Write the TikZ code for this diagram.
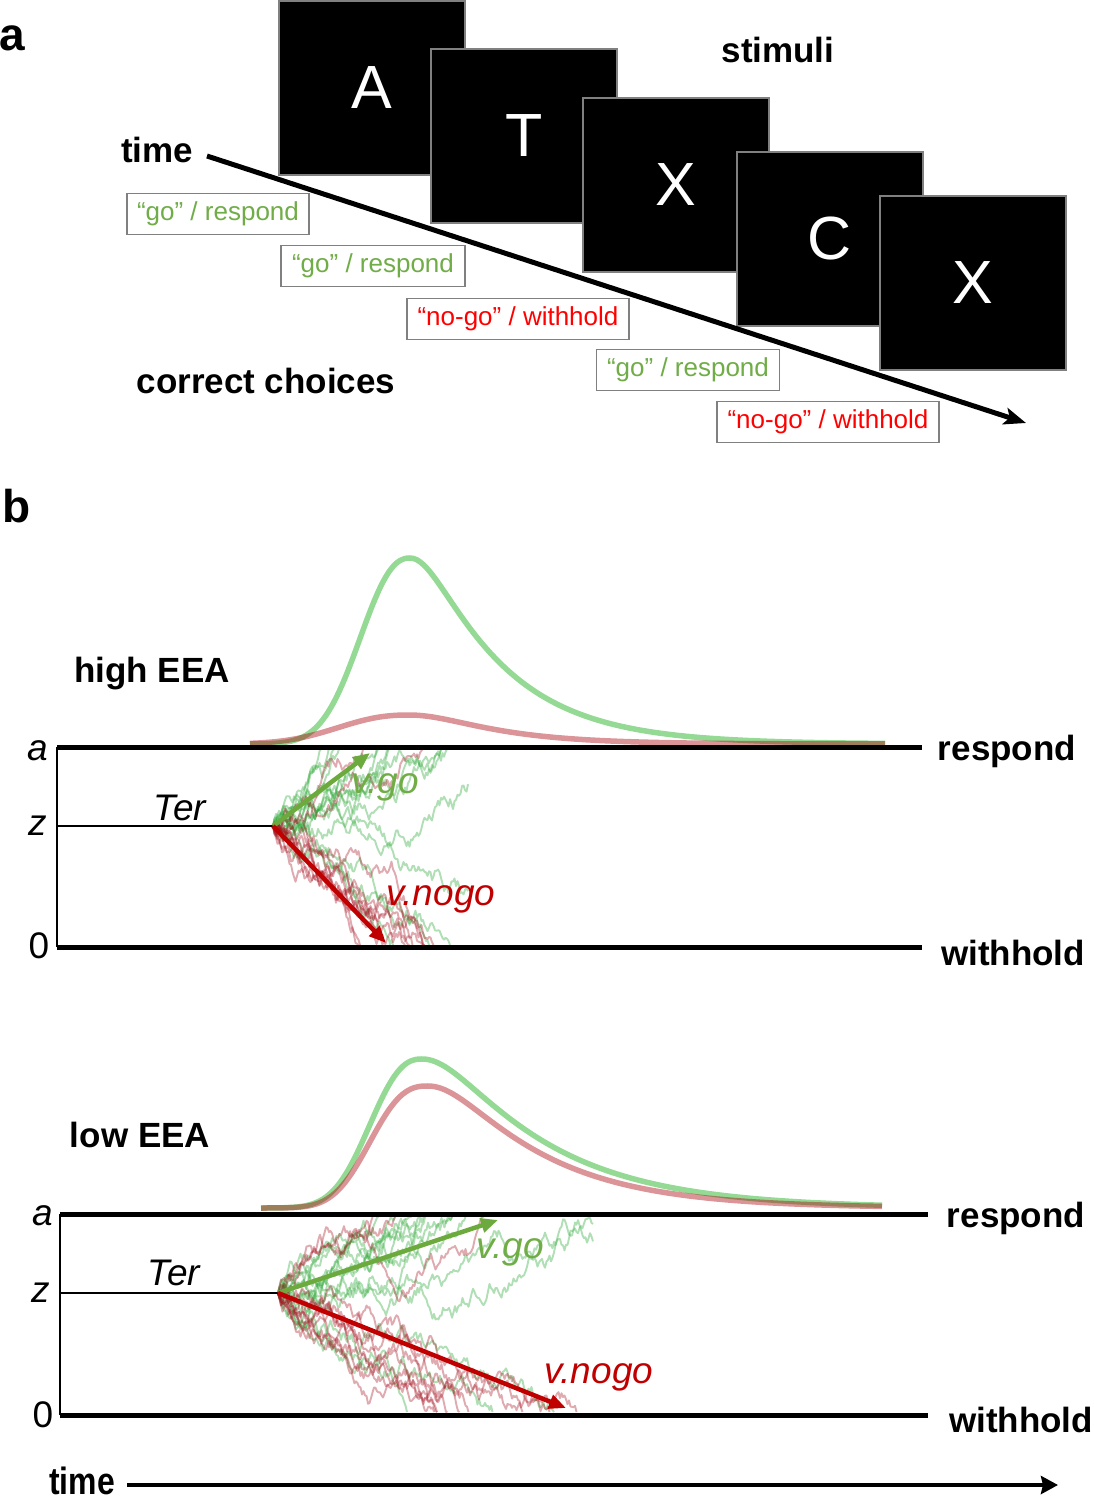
\documentclass[tikz,border=0pt]{standalone}
\usepackage{fontspec}
\usepackage{graphicx}
\setmainfont{Liberation Sans}
\usetikzlibrary{arrows.meta}
\definecolor{gtxt}{RGB}{112,173,71}
\definecolor{rtxt}{RGB}{255,0,0}
\definecolor{garr}{RGB}{108,170,62}
\definecolor{rarr}{RGB}{192,0,0}
\definecolor{gcurve}{RGB}{0,165,0}
\definecolor{rcurve}{RGB}{170,0,10}
\definecolor{gtr}{RGB}{40,165,50}
\definecolor{rtr}{RGB}{165,20,35}
\definecolor{boxgray}{RGB}{128,128,128}

\newcount\wcnt
\newcommand\rwalk[6]{%
  \def\wx{#2}\def\wy{#3}%
  \edef\wpath{(#2,#3)}%
  \wcnt=0
  \loop
    \pgfmathsetmacro\wx{\wx+1.5}%
    \pgfmathsetmacro\wy{\wy+(#4)+(#5)*rand}%
    \pgfmathsetmacro\wyc{min(max(\wy,\wtop),\wbot)}%
    \edef\wpath{\wpath -- (\wx,\wyc)}%
    \advance\wcnt by 1
    \pgfmathtruncatemacro\wgo{and(\wy>\wtop,and(\wy<\wbot,\the\wcnt<#6))}%
  \ifnum\wgo=1 \repeat
  \edef\wcmd{\noexpand\draw[#1] \wpath;}\wcmd
}

\tikzset{
  lbl/.style={font=\fontsize{35}{40}\selectfont\bfseries, inner sep=0, anchor=base},
  panellbl/.style={font=\fontsize{46}{50}\selectfont\bfseries, inner sep=0, anchor=base},
  stim/.style={draw=boxgray, line width=1.5pt, fill=black, text=white,
    minimum width=186pt, minimum height=174pt, inner sep=0,
    font=\fontsize{61}{61}\selectfont, anchor=north west},
  choice/.style={draw=boxgray, line width=1.5pt, fill=white, minimum height=41pt,
    inner sep=0, font=\fontsize{26}{30}\selectfont},
  gochoice/.style={choice, text=gtxt},
  nogochoice/.style={choice, text=rtxt},
  axlbl/.style={font=\fontsize{37}{40}\selectfont, inner sep=0, anchor=base},
  itlbl/.style={font=\fontsize{37}{40}\selectfont\itshape, inner sep=0, anchor=base},
  bound/.style={line width=5pt},
  gtrace/.style={draw=gtr, opacity=0.36, line width=1.9pt, line join=round},
  rtrace/.style={draw=rtr, opacity=0.36, line width=1.9pt, line join=round},
  gcurvest/.style={draw=gcurve, opacity=0.42, line width=5.5pt, line join=round},
  rcurvest/.style={draw=rcurve, opacity=0.42, line width=5.5pt, line join=round},
  garrow/.style={draw=garr, line width=4.5pt, -{Triangle[length=17pt,width=14pt]}},
  rarrow/.style={draw=rarr, line width=4.5pt, -{Triangle[length=17pt,width=14pt]}},
}

\begin{document}
\begin{tikzpicture}[x=1pt,y=-1pt]
\useasboundingbox (0,0) rectangle (1093,1500);

% ---------------- panel a ----------------
\node[panellbl] (pa) at (12,50) {a};
\node[stim] (s1) at (278,0) {A};
\node[stim] (s2) at (430,48) {T};
\node[stim] (s3) at (582,97) {X};
\node[stim] (s4) at (736,151) {C};
\node[stim] (s5) at (879,195) {X};
\node[lbl] (stimuli) at (778,62) {stimuli};
\node[lbl] (timea) at (157,162) {time};
\coordinate (ta0) at (207,156);
\coordinate (ta1) at (1026,423);
\draw[line width=5pt, -{Stealth[length=22pt,width=17pt,inset=5pt]}] (ta0) -- (ta1);
\node[gochoice, minimum width=182pt] (c1) at (218,214) {“go” / respond};
\node[gochoice, minimum width=184pt] (c2) at (373,266) {“go” / respond};
\node[nogochoice, minimum width=222pt] (c3) at (518,319) {“no-go” / withhold};
\node[gochoice, minimum width=183pt] (c4) at (688,370) {“go” / respond};
\node[nogochoice, minimum width=222pt] (c5) at (828,422) {“no-go” / withhold};
\node[lbl] (correct) at (266,393) {correct choices};

% ---------------- panel b ----------------
\node[panellbl] (pb) at (17,522) {b};

% ----- high EEA -----
\node[lbl] (high) at (152,682) {high EEA};
\draw[gcurvest] plot[domain=250:409.9, samples=60] (\x,{744-186*exp(-pow((410-\x)/64,2.3))})
  -- plot[domain=410:885, samples=140] (\x,{744-186*exp(-(10*sqrt(((\x-410)/10)^2+9)-30)/78)});
\draw[rcurvest] plot[domain=250:408.9, samples=60] (\x,{744-29*exp(-pow((409-\x)/90,2.35))})
  -- plot[domain=409:885, samples=140] (\x,{744-29*exp(-(10*sqrt(((\x-409)/10)^2+30.25)-55)/68)});

\def\wtop{749}\def\wbot{945}
\pgfmathsetseed{11}
\foreach \i in {1,...,12}{\rwalk{gtrace}{273}{826}{-0.95}{7}{130}}
\foreach \i in {1,...,4}{\rwalk{gtrace}{273}{826}{1.0}{7}{130}}
\foreach \i in {1,...,10}{\rwalk{rtrace}{273}{826}{1.3}{7}{130}}
\foreach \i in {1,...,2}{\rwalk{rtrace}{273}{826}{-1.4}{7}{130}}

\coordinate (h0l) at (57,947);
\coordinate (h0r) at (922,947);
\coordinate (hal) at (57,747);
\coordinate (har) at (922,747);
\coordinate (hzl) at (57,826);
\coordinate (hz) at (273,826);
\draw[bound] (hal) -- (har);
\draw[bound] (h0l) -- (h0r);
\draw[line width=2.5pt] (hal) -- (h0l);
\draw[line width=2pt] (hzl) -- (hz);
\coordinate (hg) at (370,753);
\coordinate (hr) at (386,943);
\draw[garrow] (hz) -- (hg);
\draw[rarrow] (hz) -- (hr);

\node[itlbl] (ha) at (38,760) {a};
\node[itlbl] (hzlbl) at (38,835) {z};
\node[axlbl] (h0) at (39,958) {0};
\node[itlbl] (hter) at (180,820) {Ter};
\node[itlbl, text=gtxt] (hvgo) at (385,793) {v.go};
\node[itlbl, text=rarr] (hvnogo) at (441,905) {v.nogo};
\node[lbl] (hresp) at (1007,760) {respond};
\node[lbl] (hwith) at (1013,965) {withhold};

% ----- low EEA -----
\node[lbl] (low) at (140,1147) {low EEA};
\draw[gcurvest] plot[domain=261:421.9, samples=60] (\x,{1208-149*exp(-pow((422-\x)/65,2.45))})
  -- plot[domain=422:882, samples=140] (\x,{1208-149*exp(-(10*sqrt(((\x-422)/10)^2+20.25)-45)/105)});
\draw[rcurvest] plot[domain=261:427.9, samples=60] (\x,{1208-122*exp(-pow((428-\x)/70,2.62))})
  -- plot[domain=428:882, samples=140] (\x,{1208-122*exp(-(10*sqrt(((\x-428)/10)^2+20.25)-45)/95)});

\def\wtop{1217}\def\wbot{1412}
\pgfmathsetseed{5}
\foreach \i in {1,...,11}{\rwalk{gtrace}{278}{1293}{-0.75}{7}{210}}
\foreach \i in {1,...,3}{\rwalk{gtrace}{278}{1293}{0.6}{7}{210}}
\foreach \i in {1,...,9}{\rwalk{rtrace}{278}{1293}{1.0}{7}{210}}
\foreach \i in {1,...,3}{\rwalk{rtrace}{278}{1293}{-0.45}{7}{210}}

\coordinate (l0l) at (60,1415);
\coordinate (l0r) at (928,1415);
\coordinate (lal) at (60,1214);
\coordinate (lar) at (928,1214);
\coordinate (lzl) at (60,1293);
\coordinate (lz) at (278,1293);
\draw[bound] (lal) -- (lar);
\draw[bound] (l0l) -- (l0r);
\draw[line width=2.5pt] (lal) -- (l0l);
\draw[line width=2pt] (lzl) -- (lz);
\coordinate (lg) at (498,1220);
\coordinate (lr) at (566,1408);
\draw[garrow] (lz) -- (lg);
\draw[rarrow] (lz) -- (lr);

\node[itlbl] (la) at (43,1225) {a};
\node[itlbl] (lzlbl) at (41,1302) {z};
\node[axlbl] (l0) at (43,1427) {0};
\node[itlbl] (lter) at (174,1285) {Ter};
\node[itlbl, text=gtxt] (lvgo) at (510,1258) {v.go};
\node[itlbl, text=rarr] (lvnogo) at (599,1383) {v.nogo};
\node[lbl] (lresp) at (1016,1227) {respond};
\node[lbl] (lwith) at (1021,1432) {withhold};

% ----- bottom time axis -----
\node[font=\fontsize{38}{40}\selectfont\bfseries, inner sep=0, anchor=base] (timeb) at (82,1494) {\scalebox{0.84}[1]{time}};
\coordinate (tb0) at (127,1485);
\coordinate (tb1) at (1058,1485);
\draw[line width=4pt, -{Stealth[length=17pt,width=18pt,inset=2pt]}] (tb0) -- (tb1);
\end{tikzpicture}
\end{document}
